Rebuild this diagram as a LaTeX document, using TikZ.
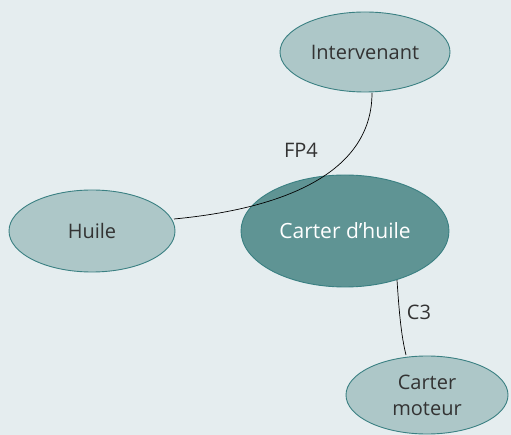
\documentclass[tikz,border=0pt]{standalone}
\usepackage{fontspec}
\setmainfont{Open Sans}
\usetikzlibrary{shapes.geometric}
\definecolor{bgcol}{HTML}{E5EDEF}
\definecolor{lightfill}{HTML}{ADC7C8}
\definecolor{darkfill}{HTML}{5F9494}
\definecolor{edgecol}{HTML}{3A8082}
\definecolor{textcol}{HTML}{333333}
\tikzset{
  lightnode/.style={ellipse, draw=edgecol, line width=0.9pt, fill=lightfill,
    text=textcol, font=\fontsize{20}{26}\selectfont, inner sep=0pt, align=center},
  darknode/.style={ellipse, draw=edgecol, line width=0.9pt, fill=darkfill,
    text=white, font=\fontsize{21}{25}\selectfont, inner sep=0pt},
  link/.style={draw=black, line width=0.7pt},
  lbl/.style={text=textcol, font=\fontsize{20}{24}\selectfont}
}
\begin{document}
\begin{tikzpicture}[x=1pt, y=-1pt]
  \fill[bgcol] (0,0) rectangle (511,435);
  \useasboundingbox (0,0) rectangle (511,435);
  % elements
  \node[darknode, minimum width=208pt, minimum height=112pt] (carter) at (345,231) {Carter d’huile};
  \node[lightnode, minimum width=170pt, minimum height=80pt] (interv) at (365,52) {Intervenant};
  \node[lightnode, minimum width=166pt, minimum height=82pt] (huile) at (92,231) {Huile};
  \node[lightnode, minimum width=162pt, minimum height=78pt] (moteur) at (427,395) {Carter\\moteur};
  % relations
  \coordinate (fpA) at (372,93);
  \coordinate (fpB) at (174,219);
  \draw[link] (fpA) .. controls (372,165) and (300,207) .. (fpB);
  \coordinate (cA) at (397,280);
  \coordinate (cB) at (406,355);
  \draw[link] (cA) .. controls (399,310) and (401,335) .. (cB);
  \node[lbl] (fp4) at (301,150) {FP4};
  \node[lbl] (c3) at (419,312) {C3};
\end{tikzpicture}
\end{document}
